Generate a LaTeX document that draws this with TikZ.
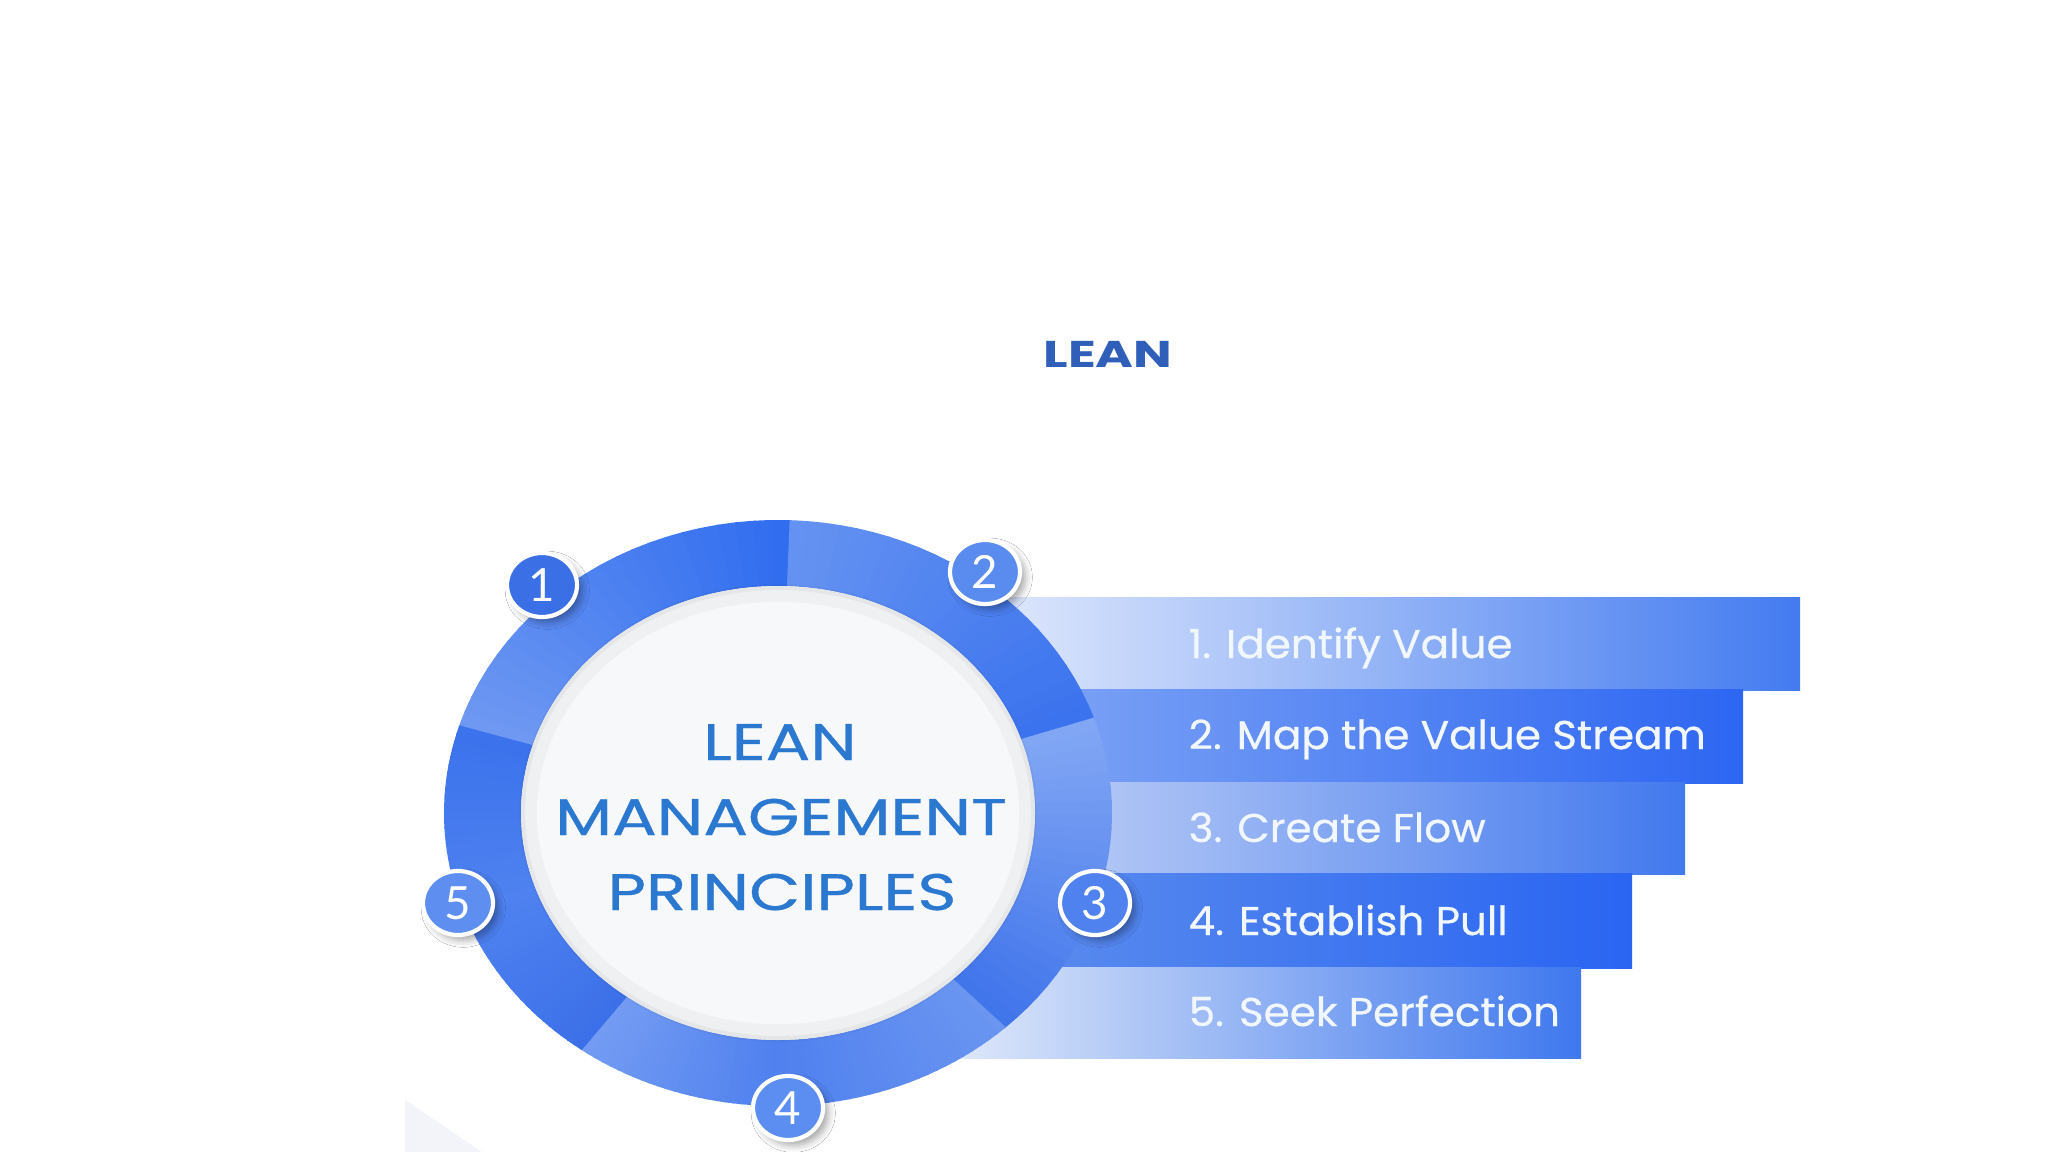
\documentclass[tikz,border=0pt]{standalone}
\usepackage{fontspec}
\usetikzlibrary{shapes.geometric,shadows.blur}
\setmainfont{Lato}
\newfontfamily\popfont[FakeStretch=1.29,FakeBold=0.7]{Poppins}
\newfontfamily\titlefont[FakeStretch=1.38]{Poppins}
\newfontfamily\barfont[FakeStretch=1.05,FakeBold=0.6]{Poppins}
\newfontfamily\digfont{Lato}
\definecolor{titleblue}{HTML}{2F5FB8}
\definecolor{centerblue}{HTML}{2B78D0}
\definecolor{innerwhite}{HTML}{F7F8FA}
\definecolor{paleshape}{HTML}{F2F4F9}
\definecolor{sA}{HTML}{6F99F2}\definecolor{eA}{HTML}{2F6CEF}
\definecolor{sB}{HTML}{6593F2}\definecolor{eB}{HTML}{3A72EE}
\definecolor{sC}{HTML}{82A7F4}\definecolor{eC}{HTML}{3F73EA}
\definecolor{sD}{HTML}{6A95F1}\definecolor{mD}{HTML}{4F80EE}\definecolor{eD}{HTML}{749CF3}
\definecolor{sE}{HTML}{3C70E8}\definecolor{mE}{HTML}{4F82F0}\definecolor{eE}{HTML}{3B72EC}
\definecolor{b1l}{HTML}{F4F7FE}\definecolor{b1r}{HTML}{437BF0}
\definecolor{b2l}{HTML}{8EB0F6}\definecolor{b2r}{HTML}{2D66F2}
\definecolor{b3l}{HTML}{DAE2F8}\definecolor{b3r}{HTML}{4279EE}
\definecolor{b4l}{HTML}{6594EC}\definecolor{b4r}{HTML}{2A65F2}
\definecolor{b5l}{HTML}{F1F5FB}\definecolor{b5r}{HTML}{3F78EE}
\definecolor{bg1}{HTML}{3A6FE6}\definecolor{bg2}{HTML}{5A8CF0}
\definecolor{bg3}{HTML}{4F82EF}\definecolor{bg4}{HTML}{5B8EF0}
\definecolor{bg5}{HTML}{5D8EF0}
\definecolor{bartxt}{HTML}{F2F6FD}
\newcommand\ringseg[4]{%
  \foreach \i in {0,...,23}{%
    \pgfmathsetmacro\aa{#1+(#2-#1)*\i/24}%
    \pgfmathsetmacro\bb{#1+(#2-#1)*(\i+1)/24+0.4}%
    \pgfmathtruncatemacro\pp{100*(\i+0.5)/24}%
    \fill[#4!\pp!#3] (\aa:334 and 293) arc[start angle=\aa,end angle=\bb,x radius=334,y radius=293]
      -- (\bb:257 and 227) arc[start angle=\bb,end angle=\aa,x radius=257,y radius=227] -- cycle;
  }}
\begin{document}
\begin{tikzpicture}[x=0.01cm,y=-0.01cm,
  bartext/.style={anchor=base west,text=bartxt,inner sep=0pt,font=\barfont\fontsize{11.4}{13}\selectfont},
  centertext/.style={anchor=base,text=centerblue,inner sep=0pt,font=\popfont\fontsize{14.6}{16}\selectfont},
  badge/.style={ellipse,minimum width=0.7cm,minimum height=0.64cm,inner sep=0pt,draw=white,line width=1.2pt,
    text=white,font=\digfont\fontsize{13}{13}\selectfont,
    blur shadow={shadow xshift=1.5pt,shadow yshift=-1.5pt,shadow opacity=35,shadow blur radius=2pt}}]
\useasboundingbox (0,0) rectangle (2048,1152);
\fill[white] (0,0) rectangle (2048,1152);
% faint corner shape
\fill[paleshape] (405,1100) -- (482,1152) -- (405,1152) -- cycle;
% title
\node[font=\titlefont\bfseries\fontsize{10.6}{12}\selectfont,text=titleblue] (title) at (1108,354) {LEAN};
% bars
\path[left color=b1l,right color=b1r] (880,598) rectangle (1800,690);
\path[left color=b2l,right color=b2r] (880,689) rectangle (1743,783);
\path[left color=b3l,right color=b3r] (880,782) rectangle (1685,874);
\path[left color=b4l,right color=b4r] (880,873) rectangle (1632,968);
\path[left color=b5l,right color=b5r] (880,967) rectangle (1581,1058);
% ring
\begin{scope}[shift={(778,813)}]
\ringseg{-163}{-88}{sA}{eA}
\ringseg{-88}{-19}{sB}{eB}
\ringseg{-19}{47}{sC}{eC}
\ringseg{47}{90}{sD}{mD}
\ringseg{90}{126}{mD}{eD}
\ringseg{126}{160}{sE}{mE}
\ringseg{160}{197}{mE}{eE}
\fill[innerwhite] (0,0) ellipse [x radius=257,y radius=227];
\draw[black,opacity=.03,line width=5pt] (0,0) ellipse [x radius=250,y radius=220];
\draw[black,opacity=.04,line width=1.2pt] (0,0) ellipse [x radius=255,y radius=225];
\end{scope}
% center text
\node[centertext] (c1) at (780,760) {LEAN};
\node[centertext] (c2) at (781,835) {MANAGEMENT};
\node[centertext] (c3) at (782,910) {PRINCIPLES};
% bar texts
\node[bartext] (t1) at (1188,658) {1. Identify Value};
\node[bartext] (t2) at (1188,749) {2. Map the Value Stream};
\node[bartext] (t3) at (1188,842) {3. Create Flow};
\node[bartext] (t4) at (1188,935) {4. Establish Pull};
\node[bartext] (t5) at (1188,1026) {5. Seek Perfection};
% badges
\node[badge,fill=bg1] (n1) at (542,585) {1};
\node[badge,fill=bg2] (n2) at (985,572) {2};
\node[badge,fill=bg3] (n3) at (1095,903) {3};
\node[badge,fill=bg4] (n4) at (788,1108) {4};
\node[badge,fill=bg5] (n5) at (458,903) {5};
\end{tikzpicture}
\end{document}
